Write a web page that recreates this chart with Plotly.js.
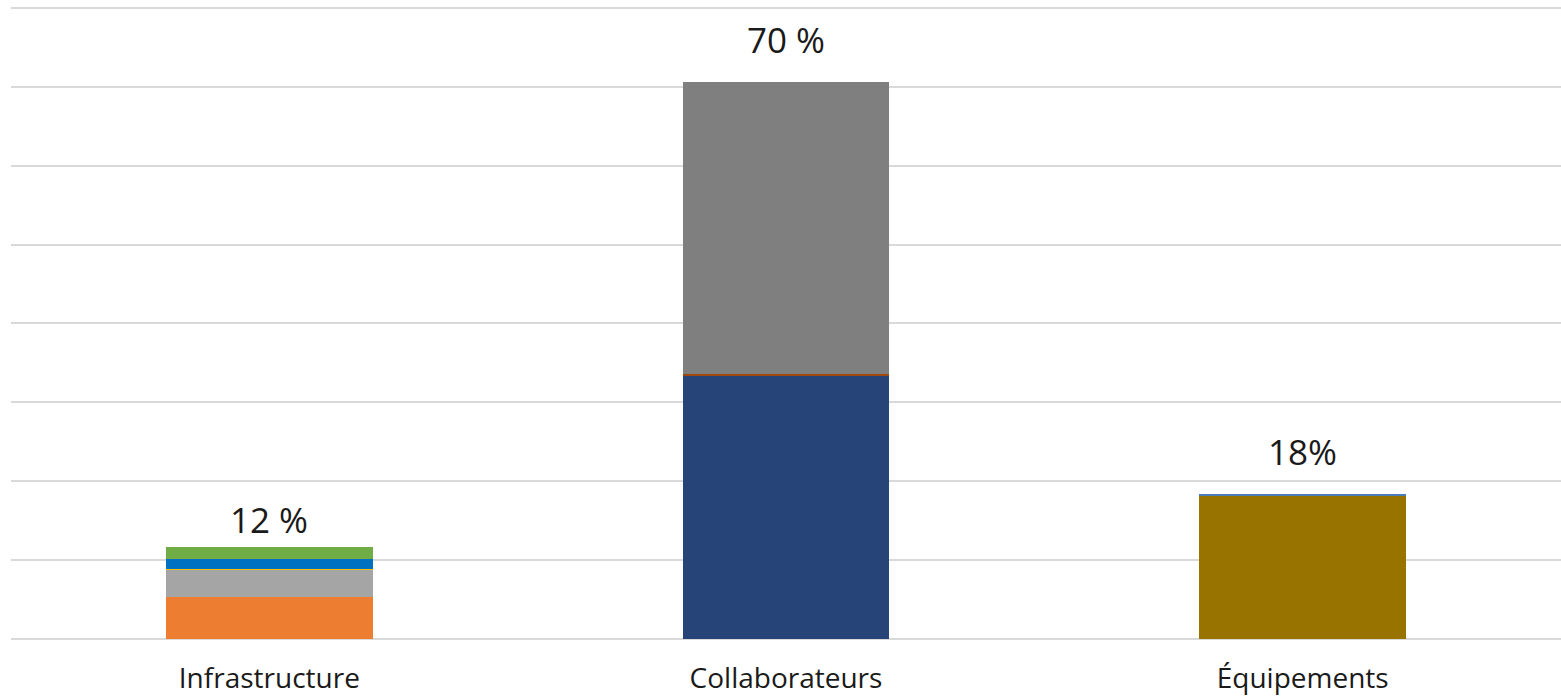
<!DOCTYPE html>
<html>
<head>
<meta charset="utf-8">
<script src="https://cdn.plot.ly/plotly-3.0.1.min.js"></script>
<style>html,body{margin:0;padding:0;background:#fff}#chart{width:1561px;height:698px}</style>
</head>
<body>
<div id="chart"></div>
<script>
var categories = ['Infrastructure', 'Collaborateurs', 'Équipements'];

// stacked segments (percent), one value per category
var infraOrange   = [5.3, 0, 0];
var infraGray     = [3.4, 0, 0];
var infraYellow   = [0.2, 0, 0];
var infraBlue     = [1.3, 0, 0];
var infraGreen    = [1.5, 0, 0];
var collabNavy    = [0, 33.4, 0];
var collabBrown   = [0, 0.15, 0];
var collabGray    = [0, 37.1, 0];
var equipOlive    = [0, 0, 18.1];
var equipBlue     = [0, 0, 0.3];

var totalLabels = ['12 %', '70 %', '18%'];

var series = [
  {name: 'Infrastructure 1', y: infraOrange, color: '#ED7D31'},
  {name: 'Infrastructure 2', y: infraGray,   color: '#A5A5A5'},
  {name: 'Infrastructure 3', y: infraYellow, color: '#FFC000'},
  {name: 'Infrastructure 4', y: infraBlue,   color: '#0070C0'},
  {name: 'Infrastructure 5', y: infraGreen,  color: '#70AD47'},
  {name: 'Collaborateurs 1', y: collabNavy,  color: '#264478'},
  {name: 'Collaborateurs 2', y: collabBrown, color: '#9E480E'},
  {name: 'Collaborateurs 3', y: collabGray,  color: '#7F7F7F'},
  {name: 'Équipements 1',    y: equipOlive,  color: '#997300'},
  {name: 'Équipements 2',    y: equipBlue,   color: '#4A7EBB'}
];

var traces = series.map(function (s) {
  return {
    type: 'bar', x: categories, y: s.y, name: s.name,
    marker: {color: s.color, line: {width: 0}},
    width: 0.4, hoverinfo: 'name+y'
  };
});

var totals = categories.map(function (c, i) {
  return series.reduce(function (a, s) { return a + s.y[i]; }, 0);
});

var labelShift = [2, 17, 17];
var annotations = categories.map(function (c, i) {
  return {
    x: c, y: totals[i], xref: 'x', yref: 'y',
    text: totalLabels[i], showarrow: false,
    yanchor: 'bottom', yshift: labelShift[i],
    font: {family: 'Open Sans, sans-serif', size: 35, color: '#1a1a1a'}
  };
});

var layout = {
  width: 1561, height: 698,
  margin: {l: 11, r: 0, t: 6, b: 59},
  barmode: 'stack',
  showlegend: false,
  paper_bgcolor: '#ffffff', plot_bgcolor: '#ffffff',
  xaxis: {
    type: 'category', range: [-0.5, 2.5],
    showgrid: false, showline: false, ticks: '',
    tickfont: {family: 'Open Sans, sans-serif', size: 28, color: '#1a1a1a'},
    ticklabelstandoff: 20
  },
  yaxis: {
    range: [0, 80.25], dtick: 10, tick0: 0, showticklabels: false,
    showgrid: true, gridcolor: '#d9d9d9', gridwidth: 2,
    zeroline: true, zerolinecolor: '#d9d9d9', zerolinewidth: 2,
    showline: false
  },
  annotations: annotations
};

Plotly.newPlot('chart', traces, layout, {displayModeBar: false, staticPlot: true});
</script>
</body>
</html>
